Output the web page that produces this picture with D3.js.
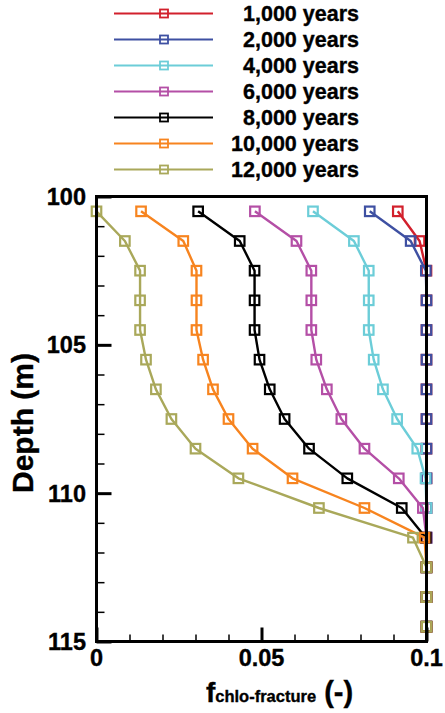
<!DOCTYPE html>
<html>
<head>
<meta charset="utf-8">
<script src="https://cdn.jsdelivr.net/npm/d3@7/dist/d3.min.js"></script>
<style>
  html, body { margin: 0; padding: 0; background: #fff; }
  svg { display: block; font-family: "Liberation Sans", Arial, sans-serif; font-weight: bold; }
  text { stroke: #000; stroke-width: 0.35px; }
</style>
</head>
<body>
<svg id="chart" width="445" height="713"></svg>
<script>
// ---- data ----
const depths = [100.5, 101.5, 102.5, 103.5, 104.5, 105.5, 106.5, 107.5, 108.5, 109.5, 110.5, 111.5, 112.5, 113.5, 114.5];
const seriesNames = ["1,000 years", "2,000 years", "4,000 years", "6,000 years", "8,000 years", "10,000 years", "12,000 years"];
const seriesColors = ["#d2202c", "#3e50a2", "#6ccdd8", "#b44fa6", "#000000", "#f7841f", "#a9a85a"];
const y1000  = [0.0913, 0.0979, 0.1, 0.1, 0.1, 0.1, 0.1, 0.1, 0.1, 0.1, 0.1, 0.1, 0.1, 0.1, 0.1];
const y2000  = [0.0828, 0.0952, 0.0998, 0.1, 0.1, 0.1, 0.1, 0.1, 0.1, 0.1, 0.1, 0.1, 0.1, 0.1, 0.1];
const y4000  = [0.0656, 0.0780, 0.0825, 0.0825, 0.0825, 0.0840, 0.0868, 0.0911, 0.0972, 0.0997, 0.1, 0.1, 0.1, 0.1, 0.1];
const y6000  = [0.0480, 0.0606, 0.0651, 0.0651, 0.0651, 0.0666, 0.0698, 0.0742, 0.0812, 0.0916, 0.0989, 0.1, 0.1, 0.1, 0.1];
const y8000  = [0.0308, 0.0434, 0.0479, 0.0479, 0.0479, 0.0494, 0.0525, 0.0570, 0.0644, 0.0760, 0.0925, 0.0998, 0.1, 0.1, 0.1];
const y10000 = [0.0135, 0.0263, 0.0303, 0.0303, 0.0303, 0.0323, 0.0353, 0.0400, 0.0473, 0.0594, 0.0812, 0.0994, 0.1, 0.1, 0.1];
const y12000 = [0.0000, 0.0086, 0.0132, 0.0132, 0.0132, 0.0150, 0.0180, 0.0227, 0.0300, 0.0430, 0.0674, 0.0959, 0.1, 0.1, 0.1];
const seriesValues = [y1000, y2000, y4000, y6000, y8000, y10000, y12000];
const xTickValues = [0, 0.05, 0.1];
const xTickLabels = ["0", "0.05", "0.1"];
const yTickValues = [100, 105, 110, 115];
const yTickLabels = ["100", "105", "110", "115"];

(function () {
// ---- layout ----
const svg = d3.select("#chart");
const pLeft = 96.5, pRight = 426.5, pTop = 196.5, pBottom = 641.5;
const x = d3.scaleLinear().domain([0, 0.1]).range([pLeft, pRight]);
const y = d3.scaleLinear().domain([100, 115]).range([pTop, pBottom]);

const plot = svg.append("g");

// series
const line = d3.line().x(d => x(d[0])).y(d => y(d[1]));
seriesValues.forEach((vals, i) => {
  const pts = vals.map((v, j) => [v, depths[j]]);
  const g = plot.append("g");
  g.append("path")
    .attr("d", line(pts))
    .attr("fill", "none")
    .attr("stroke", seriesColors[i])
    .attr("stroke-width", 2.4)
    .attr("stroke-linejoin", "round");
  g.selectAll("rect").data(pts).enter().append("rect")
    .attr("x", d => x(d[0]) - 4.75)
    .attr("y", d => y(d[1]) - 4.75)
    .attr("width", 9.5).attr("height", 9.5)
    .attr("fill", "none")
    .attr("stroke", seriesColors[i])
    .attr("stroke-width", 2.2);
});

// frame
svg.append("rect")
  .attr("x", pLeft).attr("y", pTop)
  .attr("width", pRight - pLeft).attr("height", pBottom - pTop)
  .attr("fill", "none").attr("stroke", "#000").attr("stroke-width", 3);

// y axis ticks (inward)
const yAxis = d3.axisRight(y).tickValues(d3.range(100, 116, 1)).tickSize(0).tickFormat("");
const yg = svg.append("g").attr("transform", `translate(${pLeft},0)`).call(yAxis);
yg.select(".domain").remove();
yg.selectAll(".tick line")
  .attr("x2", d => (d % 5 === 0 ? 15 : 8))
  .attr("stroke", "#000").attr("stroke-width", d => (d % 5 === 0 ? 3 : 1.5));
yTickValues.forEach((v, i) => {
  svg.append("text")
    .attr("x", 86).attr("y", y(v) + 8.5)
    .attr("text-anchor", "end")
    .attr("font-size", 23.5)
    .text(yTickLabels[i]);
});

// x axis ticks (inward)
const xAxis = d3.axisTop(x).tickValues(d3.range(0, 11).map(k => k / 100)).tickSize(0).tickFormat("");
const xg = svg.append("g").attr("transform", `translate(0,${pBottom})`).call(xAxis);
xg.select(".domain").remove();
xg.selectAll(".tick line")
  .attr("y2", (d, i) => (i % 5 === 0 ? -14 : -7))
  .attr("stroke", "#000").attr("stroke-width", (d, i) => (i % 5 === 0 ? 3 : 1.5));
xTickValues.forEach((v, i) => {
  svg.append("text")
    .attr("x", x(v)).attr("y", 666)
    .attr("text-anchor", "middle")
    .attr("font-size", 23.5)
    .text(xTickLabels[i]);
});

// axis titles
svg.append("text")
  .attr("transform", `translate(33,${(pTop + pBottom) / 2 + 4}) rotate(-90)`)
  .attr("text-anchor", "middle")
  .attr("font-size", 30)
  .text("Depth (m)");

const xt = svg.append("text")
  .attr("x", (pLeft + pRight) / 2 + 18).attr("y", 701.5)
  .attr("text-anchor", "middle");
xt.append("tspan").attr("font-size", 28).text("f");
xt.append("tspan").attr("font-size", 16.5).text("chlo-fracture");
xt.append("tspan").attr("font-size", 29).text(" (-)");

// legend
seriesNames.forEach((name, i) => {
  const ly = 13.5 + i * 26;
  const g = svg.append("g");
  g.append("line")
    .attr("x1", 114).attr("x2", 213).attr("y1", ly).attr("y2", ly)
    .attr("stroke", seriesColors[i]).attr("stroke-width", 2);
  g.append("rect")
    .attr("x", 164 - 4).attr("y", ly - 4).attr("width", 8).attr("height", 8)
    .attr("fill", "none").attr("stroke", seriesColors[i]).attr("stroke-width", 1.8);
  g.append("text")
    .attr("x", 359).attr("y", ly + 7.5)
    .attr("text-anchor", "end")
    .attr("font-size", 21.5)
    .text(name);
});
})();
</script>
</body>
</html>
